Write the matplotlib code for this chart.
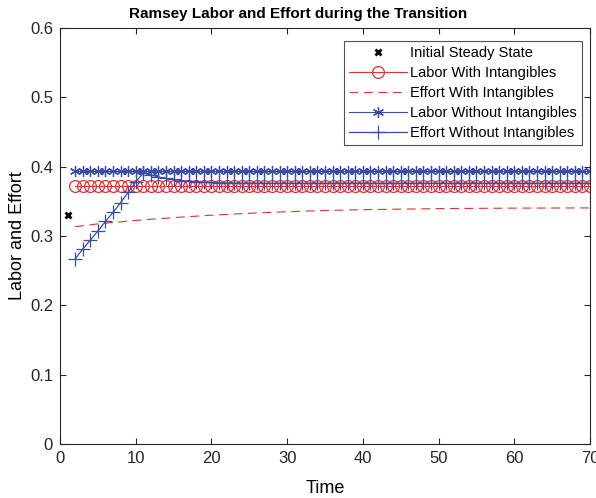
import numpy as np
import matplotlib
matplotlib.use('Agg')
import matplotlib.pyplot as plt

plt.rcParams['font.family'] = ['Liberation Sans', 'DejaVu Sans']

## datos
t = list(range(2, 71))
init_t = [1]
init_val = [0.33]

labor_with = [0.372] * len(t)
labor_without = [0.394] * len(t)

# esfuerzo con intangibles (curva suave, puntos dispersos)
effort_with_t = [2, 5, 10, 15, 20, 25, 30, 35, 40, 50, 60, 70]
effort_with = [0.3135, 0.3175, 0.3225, 0.3265, 0.3300, 0.3328, 0.3350, 0.3368, 0.3380, 0.3395, 0.3402, 0.3405]

# esfuerzo sin intangibles
effort_without = [0.267, 0.281, 0.294, 0.307, 0.321, 0.334, 0.348, 0.363, 0.378, 0.391,
                  0.388, 0.385, 0.383, 0.3815, 0.380, 0.379, 0.3783, 0.3777, 0.3772, 0.3768,
                  0.3765, 0.3763, 0.3762, 0.3761, 0.376, 0.376, 0.376, 0.376, 0.376] + [0.376] * 40

red = '#e2332b'
blue = '#3a4ca6'

fig = plt.figure(figsize=(5.96, 4.98), dpi=100)
ax = fig.add_axes([60/596, 54/498, 530/596, 416/498])

ax.plot(init_t, init_val, 'x', color='black', markersize=5, markeredgewidth=2, label='Initial Steady State')
ax.plot(t, labor_with, '-', color=red, lw=0.8, marker='o', markersize=8.5, markerfacecolor='none',
        markeredgewidth=0.9, label='Labor With Intangibles')
ax.plot(effort_with_t, effort_with, '--', color=red, lw=0.8, dashes=(8, 5), label='Effort With Intangibles')
ax.plot(t, labor_without, '-', color=blue, lw=0.8, marker=(6, 2, 0), markersize=8,
        markeredgewidth=0.9, label='Labor Without Intangibles')
ax.plot(t, effort_without, '-', color=blue, lw=0.9, marker='+', markersize=10,
        markeredgewidth=0.9, label='Effort Without Intangibles')

ax.set_xlim(0, 70)
ax.set_ylim(0, 0.6)
ax.set_xticks(range(0, 71, 10))
ax.set_yticks([0, 0.1, 0.2, 0.3, 0.4, 0.5, 0.6])
ax.set_yticklabels(['0', '0.1', '0.2', '0.3', '0.4', '0.5', '0.6'])
ax.tick_params(direction='in', top=True, right=True, labelsize=12, colors='#262626', length=4, pad=5)
for s in ax.spines.values():
    s.set_color('#262626')
    s.set_linewidth(0.8)

ax.set_title('Ramsey Labor and Effort during the Transition', fontsize=11, fontweight='bold',
             pad=7, x=(298 - 60) / 530)
ax.set_xlabel('Time', fontsize=13, labelpad=10)
ax.set_ylabel('Labor and Effort', fontsize=13, labelpad=3)

leg = ax.legend(loc='upper right', bbox_to_anchor=(0.985, 0.968), fontsize=10.5, frameon=True,
                fancybox=False, edgecolor='#262626', handlelength=4.0, borderpad=0.35,
                labelspacing=0.4, handletextpad=0.2, borderaxespad=0)
leg.get_frame().set_linewidth(0.8)

fig.savefig('out.png', dpi=100)
